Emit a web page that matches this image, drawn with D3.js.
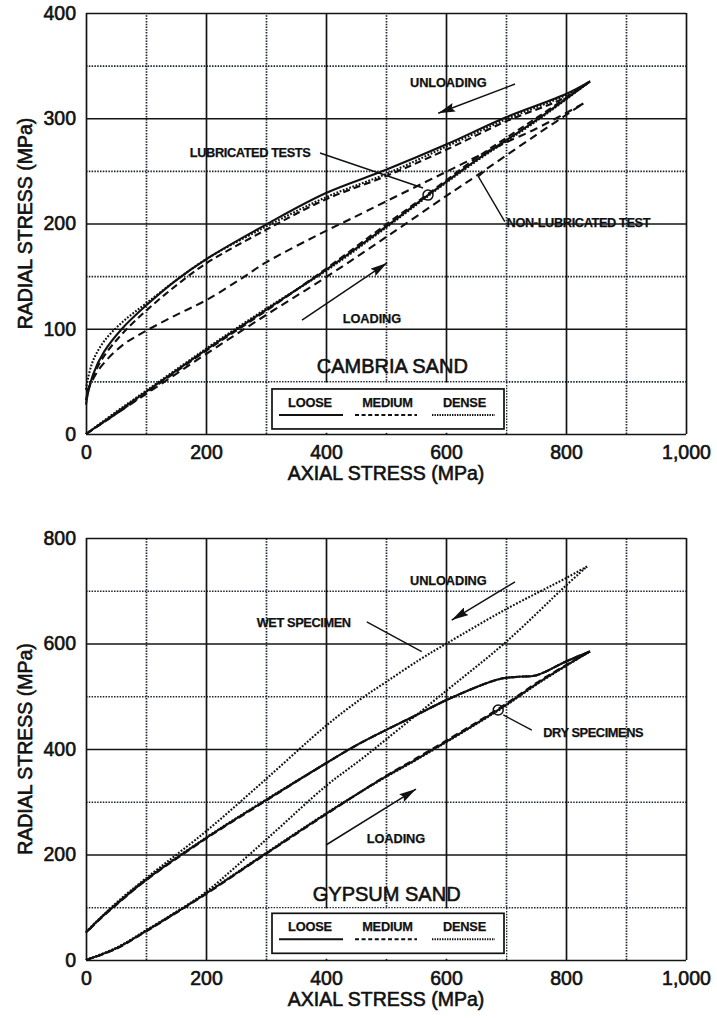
<!DOCTYPE html>
<html>
<head>
<meta charset="utf-8">
<script src="https://cdn.jsdelivr.net/npm/d3@7"></script>
<style>
  body { margin: 0; background: #fff; }
  svg { display: block; }
  text { font-family: "Liberation Sans", Arial, Helvetica, sans-serif; fill: #111; }
</style>
</head>
<body>
<svg id="fig" width="717" height="1018"></svg>
<script>
// ---------------- Cambria sand (axial MPa, radial MPa) ----------------
// lubricated tests: loading branches
const cambriaLoadLoose  = [[0,0],[50,20],[100,40],[200,80],[300,118],[400,156],[500,197],[570,227],[650,260],[750,298],[840,335]];
const cambriaLoadMedium = [[0,0],[50,19],[100,39],[200,79],[300,117],[400,157],[500,199],[570,228],[650,262],[750,300],[840,335]];
const cambriaLoadDense  = [[0,0],[50,21],[100,41],[200,81],[300,119],[400,155],[500,196],[570,226],[650,259],[750,297],[840,335]];
// lubricated tests: unloading branches
const cambriaUnloadLoose  = [[840,335],[800,323],[700,301],[600,275],[500,251],[400,229],[300,199],[200,166],[150,146],[100,122],[60,100],[30,78],[12,57],[3,38],[0,28]];
const cambriaUnloadMedium = [[840,335],[800,320],[700,297],[600,270],[500,245],[400,223],[300,194],[200,162],[150,141],[100,117],[60,95],[30,74],[12,55],[3,40],[0,32]];
const cambriaUnloadDense  = [[840,335],[800,322],[700,299],[600,273],[500,247],[400,225],[300,197],[200,166],[150,146],[100,124],[60,106],[30,88],[12,70],[3,52],[0,42]];
// non-lubricated test (medium)
const cambriaNonLubLoad   = [[0,0],[100,38],[200,76],[300,113],[400,149],[500,187],[600,226],[650,245],[750,284],[829,314]];
const cambriaNonLubUnload = [[829,314],[750,290],[700,277],[600,249],[500,221],[440,204],[400,193],[300,163],[257,147],[200,127],[150,113],[100,98],[60,84],[25,64],[8,48],[0,38]];

// ---------------- Gypsum sand ----------------
// dry specimens
const gypsumLoadLoose  = [[0,0],[50,22],[100,55],[150,90],[200,126],[300,202],[400,277],[500,348],[550,380],[687,474],[760,530],[840,585]];
const gypsumLoadMedium = [[0,0],[50,21],[100,54],[150,89],[200,125],[300,201],[400,276],[500,349],[550,382],[687,476],[760,532],[840,585]];
const gypsumLoadDense  = [[0,0],[50,23],[100,56],[150,91],[200,127],[300,203],[400,278],[500,347],[550,379],[687,473],[760,529],[840,585]];
const gypsumUnloadLoose  = [[840,585],[800,566],[751,540],[720,537],[695,534],[673,527],[601,493],[550,464],[457,411],[400,373],[300,303],[200,231],[100,152],[50,105],[20,75],[0,52]];
const gypsumUnloadMedium = [[840,585],[800,566],[751,540],[720,537],[695,534],[673,527],[601,493],[550,464],[457,411],[400,373],[300,302],[200,230],[100,151],[50,104],[20,74],[0,51]];
const gypsumUnloadDense  = [[840,585],[800,566],[751,540],[720,537],[695,534],[673,527],[601,493],[550,464],[457,411],[400,373],[300,304],[200,232],[100,153],[50,106],[20,76],[0,53]];
// wet specimen
const gypsumWetLoad   = [[0,0],[50,22],[100,56],[150,90],[200,129],[300,228],[400,330],[457,379],[500,418],[600,510],[700,603],[800,710],[835,746]];
const gypsumWetUnload = [[835,746],[800,724],[700,665],[601,600],[557,570],[500,527],[457,494],[400,444],[300,343],[200,244],[100,155],[50,108],[20,75],[0,52]];

// ---------------- ticks and labels ----------------
const axialTicks = [0,200,400,600,800,1000];
const axialMinor = [100,300,500,700,900];
const cambriaRadialTicks = [0,100,200,300,400];
const cambriaRadialMinor = [50,150,250,350];
const gypsumRadialTicks = [0,200,400,600,800];
const gypsumRadialMinor = [100,300,500,700];
const densityLabels = ["LOOSE","MEDIUM","DENSE"];
const axialTitle = "AXIAL STRESS (MPa)";
const radialTitle = "RADIAL STRESS (MPa)";

// line styles for loose / medium / dense
const dashFor = { LOOSE: null, MEDIUM: "7,4", DENSE: "1.8,1.6" };
const legendDash = { LOOSE: null, MEDIUM: "4,2.6", DENSE: "1.4,1.1" };

const svg = d3.select("#fig");
const ink = "#111";

// arrowhead
svg.append("defs").append("marker")
  .attr("id", "head")
  .attr("viewBox", "0 0 10 10")
  .attr("refX", 10).attr("refY", 5)
  .attr("markerWidth", 17).attr("markerHeight", 9)
  .attr("markerUnits", "userSpaceOnUse")
  .attr("preserveAspectRatio", "none")
  .attr("orient", "auto")
  .append("path").attr("d", "M0,0 L10,5 L0,10 L1.5,5 Z").attr("fill", ink);

function panel(opt) {
  const g = svg.append("g");
  const x = d3.scaleLinear().domain([0, 1000]).range([86, 686]);
  const y = d3.scaleLinear().domain([0, opt.yMax]).range([opt.bottom, opt.top]);
  const h = opt.bottom - opt.top, w = 600;

  // grid: dotted minor, solid major (major set includes the frame)
  function grid(axis, tr, dash, width, color) {
    const a = g.append("g").attr("transform", tr).call(axis);
    a.select(".domain").remove();
    a.selectAll("line").attr("stroke", color).attr("stroke-width", width)
      .attr("stroke-dasharray", dash);
  }
  grid(d3.axisBottom(x).tickValues(axialMinor).tickSize(-h).tickFormat(""),
       `translate(0,${opt.bottom})`, "1.5,1.3", 1.7, "#1c2630");
  grid(d3.axisLeft(y).tickValues(opt.minor).tickSize(-w).tickFormat(""),
       `translate(86,0)`, "1.5,1.3", 1.7, "#1c2630");
  grid(d3.axisBottom(x).tickValues(axialTicks).tickSize(-h).tickFormat(""),
       `translate(0,${opt.bottom})`, null, 1.7, "#141414");
  grid(d3.axisLeft(y).tickValues(opt.ticks).tickSize(-w).tickFormat(""),
       `translate(86,0)`, null, 1.7, "#141414");

  // white panel behind the legend
  const lx = x(opt.legendAt[0]), ly = y(opt.legendAt[1]);
  const lw = 232, lh = 40;
  g.append("rect")
    .attr("x", lx - 2).attr("y", y(opt.maskFrom) + 1.2)
    .attr("width", lw + 4).attr("height", opt.bottom - 1.2 - (y(opt.maskFrom) + 1.2))
    .attr("fill", "#fff");
  g.append("rect").attr("x", lx).attr("y", ly).attr("width", lw).attr("height", lh)
    .attr("fill", "#fff").attr("stroke", ink).attr("stroke-width", 1.7);
  const legendCenters = [38, 115.5, 192.5];
  const legendSpans = [[7, 71], [83, 145], [160, 223]];
  densityLabels.forEach((k, i) => {
    g.append("text").attr("x", lx + legendCenters[i]).attr("y", ly + 18)
      .attr("text-anchor", "middle").attr("font-size", 12.8).attr("font-weight", "bold")
      .attr("letter-spacing", -0.2).attr("stroke", ink).attr("stroke-width", 0.25).text(k);
    g.append("line")
      .attr("x1", lx + legendSpans[i][0]).attr("x2", lx + legendSpans[i][1])
      .attr("y1", ly + 26).attr("y2", ly + 26)
      .attr("stroke", ink).attr("stroke-width", 2)
      .attr("stroke-dasharray", legendDash[k]);
  });

  // title
  g.append("text").attr("x", x(opt.titleAt[0])).attr("y", y(opt.titleAt[1]))
    .attr("font-size", 20).attr("stroke", ink).attr("stroke-width", 0.6)
    .text(opt.title);

  // curves
  const line = d3.line().x(d => x(d[0])).y(d => y(d[1]))
    .curve(d3.curveCatmullRom.alpha(0.5));
  opt.curves.forEach(c => {
    g.append("path").datum(c.data).attr("d", line)
      .attr("fill", "none").attr("stroke", ink)
      .attr("stroke-width", c.width || 2.1)
      .attr("stroke-dasharray", c.dash)
      .attr("stroke-linejoin", "round");
  });

  // annotations
  const straight = d3.line().x(d => x(d[0])).y(d => y(d[1]));
  opt.leaders.forEach(p => {
    g.append("path").attr("d", straight(p)).attr("fill", "none")
      .attr("stroke", ink).attr("stroke-width", 1.4);
  });
  opt.arrows.forEach(p => {
    g.append("path").attr("d", straight(p)).attr("fill", "none")
      .attr("stroke", ink).attr("stroke-width", 1.5)
      .attr("marker-end", "url(#head)");
  });
  g.append("circle").attr("cx", x(opt.circle[0])).attr("cy", y(opt.circle[1]))
    .attr("r", 5).attr("fill", "none").attr("stroke", ink).attr("stroke-width", 1.5);
  opt.notes.forEach(n => {
    g.append("text").attr("x", x(n.at[0])).attr("y", y(n.at[1]))
      .attr("font-size", 12.8).attr("font-weight", "bold")
      .attr("letter-spacing", n.tight ? -0.4 : -0.1)
      .attr("stroke", ink).attr("stroke-width", 0.25)
      .text(n.text);
  });

  // tick labels
  const ax = g.append("g").attr("transform", `translate(0,${opt.bottom})`)
    .call(d3.axisBottom(x).tickValues(axialTicks).tickFormat(d3.format(","))
      .tickSize(0).tickPadding(11));
  ax.select(".domain").remove();
  ax.selectAll("text").attr("font-size", 19.5).attr("fill", ink)
    .attr("stroke", ink).attr("stroke-width", 0.6);
  const ay = g.append("g").attr("transform", `translate(86,0)`)
    .call(d3.axisLeft(y).tickValues(opt.ticks).tickSize(0).tickPadding(10));
  ay.select(".domain").remove();
  ay.selectAll("text").attr("font-size", 19.5).attr("fill", ink)
    .attr("stroke", ink).attr("stroke-width", 0.6);

  // axis titles
  g.append("text").attr("x", (x.range()[0] + x.range()[1]) / 2).attr("y", opt.bottom + 46)
    .attr("text-anchor", "middle").attr("font-size", 19.5)
    .attr("stroke", ink).attr("stroke-width", 0.6).text(axialTitle);
  g.append("text")
    .attr("transform", `translate(25,${(opt.top + opt.bottom) / 2}) rotate(-90)`)
    .attr("text-anchor", "middle").attr("dy", "0.35em").attr("font-size", 19.5)
    .attr("stroke", ink).attr("stroke-width", 0.6).text(radialTitle);
}

panel({
  top: 13, bottom: 434, yMax: 400,
  ticks: cambriaRadialTicks, minor: cambriaRadialMinor,
  title: "CAMBRIA SAND", titleAt: [384.5, 58],
  legendAt: [310, 42.8], maskFrom: 50,
  curves: [
    { data: cambriaNonLubLoad, dash: "8,5" },
    { data: cambriaNonLubUnload, dash: "8,5" },
    { data: cambriaLoadLoose, dash: dashFor.LOOSE },
    { data: cambriaLoadMedium, dash: dashFor.MEDIUM },
    { data: cambriaLoadDense, dash: dashFor.DENSE },
    { data: cambriaUnloadMedium, dash: dashFor.MEDIUM },
    { data: cambriaUnloadDense, dash: dashFor.DENSE },
    { data: cambriaUnloadLoose, dash: dashFor.LOOSE }
  ],
  notes: [
    { text: "UNLOADING", at: [540, 330] },
    { text: "LUBRICATED TESTS", at: [173, 263.5], tight: true },
    { text: "NON-LUBRICATED TEST", at: [701, 197], tight: true },
    { text: "LOADING", at: [428, 105.5] }
  ],
  arrows: [
    [[715, 332.5], [587, 304.7]],
    [[360, 108.3], [501.7, 162.5]]
  ],
  leaders: [
    [[390, 267], [561.7, 233.7]],
    [[698, 201.7], [654, 244.5], [665, 250]]
  ],
  circle: [570, 227]
});

panel({
  top: 538, bottom: 960, yMax: 800,
  ticks: gypsumRadialTicks, minor: gypsumRadialMinor,
  title: "GYPSUM SAND", titleAt: [378, 112],
  legendAt: [310, 88.5], maskFrom: 100,
  curves: [
    { data: gypsumWetLoad, dash: dashFor.DENSE },
    { data: gypsumWetUnload, dash: dashFor.DENSE },
    { data: gypsumLoadMedium, dash: dashFor.MEDIUM },
    { data: gypsumLoadDense, dash: dashFor.DENSE },
    { data: gypsumLoadLoose, dash: dashFor.LOOSE },
    { data: gypsumUnloadMedium, dash: dashFor.MEDIUM },
    { data: gypsumUnloadDense, dash: dashFor.DENSE },
    { data: gypsumUnloadLoose, dash: dashFor.LOOSE }
  ],
  notes: [
    { text: "UNLOADING", at: [540, 711] },
    { text: "WET SPECIMEN", at: [284.5, 632], tight: true },
    { text: "DRY SPECIMENS", at: [762, 423.3], tight: true },
    { text: "LOADING", at: [468, 221] }
  ],
  arrows: [
    [[715, 717], [609.5, 644.5]],
    [[400, 218], [550, 324]]
  ],
  leaders: [
    [[468, 641], [559.5, 584.5]],
    [[743, 436], [695.5, 464.5]]
  ],
  circle: [687, 474]
});
</script>
</body>
</html>
